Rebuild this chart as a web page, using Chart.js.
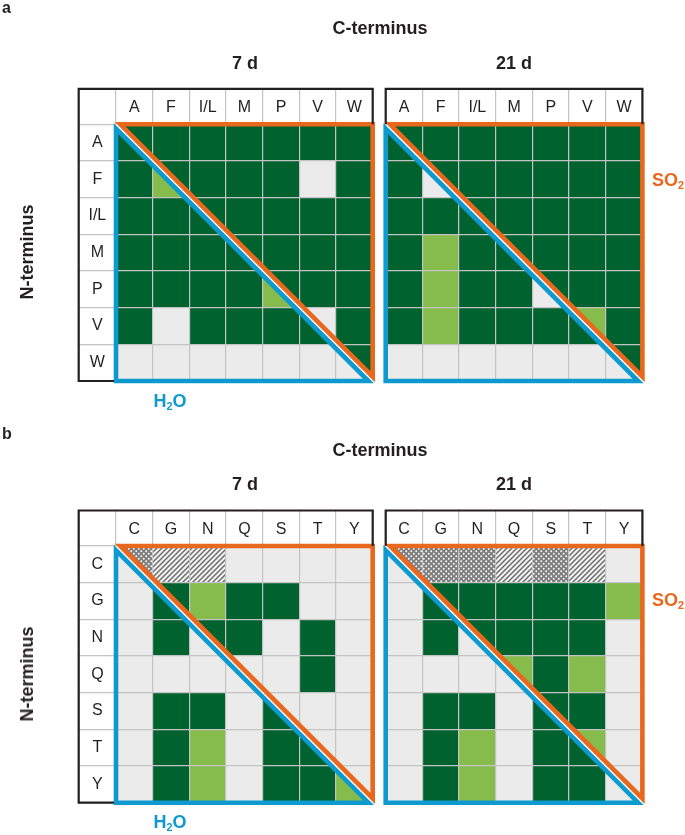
<!DOCTYPE html>
<html>
<head>
<meta charset="utf-8">
<title>Dipeptide grids: N-terminus vs C-terminus, 7 d and 21 d</title>
<script src="https://cdn.jsdelivr.net/npm/chart.js"></script>
<style>
  body { margin: 0; background: #fff; }
  #page { position: relative; width: 685px; height: 835px; overflow: hidden; color: #231f20; }
  canvas { position: absolute; left: 0; top: 0; }
  .t { position: absolute; transform: translate(-50%, -50%); white-space: nowrap;
       font-family: 'Liberation Sans Narrow', 'Arial Narrow', 'Liberation Sans', Arial, sans-serif;
       font-weight: bold; font-size: 18px; line-height: 1; }
  .panel { font-family: 'Liberation Sans', Arial, sans-serif; font-size: 16px; transform: none; }
  .rot { transform: translate(-50%, -50%) rotate(-90deg); }
  .h2o { color: #0e9acf; }
  .so2 { color: #e8681e; }
  sub { font-size: 60%; vertical-align: -0.25em; }
</style>
</head>
<body>
<div id="page">
  <canvas id="a7" width="685" height="835"></canvas>
  <canvas id="a21" width="685" height="835"></canvas>
  <canvas id="b7" width="685" height="835"></canvas>
  <canvas id="b21" width="685" height="835"></canvas>

  <div class="t panel" style="left:2px; top:0px;">a</div>
  <div class="t" style="left:380px; top:28px;">C-terminus</div>
  <div class="t" style="left:245px; top:63px;">7 d</div>
  <div class="t" style="left:514px; top:63px;">21 d</div>
  <div class="t rot" style="left:27px; top:252px;">N-terminus</div>
  <div class="t so2" style="left:668px; top:181px;">SO<sub>2</sub></div>
  <div class="t h2o" style="left:170px; top:402px;">H<sub>2</sub>O</div>

  <div class="t panel" style="left:2px; top:426px;">b</div>
  <div class="t" style="left:380px; top:450px;">C-terminus</div>
  <div class="t" style="left:245px; top:484px;">7 d</div>
  <div class="t" style="left:514px; top:484px;">21 d</div>
  <div class="t rot" style="left:27px; top:674px;">N-terminus</div>
  <div class="t so2" style="left:668px; top:601px;">SO<sub>2</sub></div>
  <div class="t h2o" style="left:170px; top:823px;">H<sub>2</sub>O</div>
</div>

<script>
// amino acid labels (rows = N-terminus, columns = C-terminus)
const aLabels = ['A', 'F', 'I/L', 'M', 'P', 'V', 'W'];
const bLabels = ['C', 'G', 'N', 'Q', 'S', 'T', 'Y'];

// 0 = not found (grey), 1 = light green, 2 = dark green, 3 = hatched, 4 = dotted
// upper triangle = SO2, lower triangle = H2O
// diagonal cells are split: [SO2 upper-right half, H2O lower-left half]
const a7d = [
  [[2, 2], 2, 2, 2, 2, 2, 2],
  [2, [2, 1], 2, 2, 2, 0, 2],
  [2, 2, [2, 2], 2, 2, 2, 2],
  [2, 2, 2, [2, 2], 2, 2, 2],
  [2, 2, 2, 2, [2, 1], 2, 2],
  [2, 0, 2, 2, 2, [0, 2], 2],
  [0, 0, 0, 0, 0, 0, [2, 0]]
];
const a21d = [
  [[2, 2], 2, 2, 2, 2, 2, 2],
  [2, [2, 0], 2, 2, 2, 2, 2],
  [2, 2, [2, 2], 2, 2, 2, 2],
  [2, 1, 2, [2, 2], 2, 2, 2],
  [2, 1, 2, 2, [2, 0], 2, 2],
  [2, 1, 2, 2, 2, [1, 2], 2],
  [0, 0, 0, 0, 0, 0, [2, 0]]
];
const b7d = [
  [[4, 0], 3, 3, 0, 0, 0, 0],
  [0, [2, 2], 1, 2, 2, 0, 0],
  [0, 2, [2, 0], 2, 0, 2, 0],
  [0, 0, 0, [0, 0], 0, 2, 0],
  [0, 2, 2, 0, [0, 2], 0, 0],
  [0, 2, 1, 0, 2, [0, 2], 0],
  [0, 2, 1, 0, 2, 2, [0, 1]]
];
const b21d = [
  [[4, 0], 4, 4, 3, 4, 3, 0],
  [0, [2, 2], 2, 2, 2, 2, 1],
  [0, 2, [2, 0], 2, 2, 2, 0],
  [0, 0, 0, [1, 0], 2, 1, 0],
  [0, 2, 2, 0, [2, 2], 2, 0],
  [0, 2, 1, 0, 2, [1, 2], 0],
  [0, 2, 1, 0, 2, 2, [0, 0]]
];

const PAGE_W = 685, PAGE_H = 835;
const HEADER_H = 35.5, LABEL_W = 37.3, GRID_SIZE = 256.7;
const ORANGE = '#e8681e', BLUE = '#0e9acf', FRAME = '#231f20';
const TICK_FONT = { family: "'Liberation Sans', Arial, sans-serif", size: 16 };

function makePattern(draw) {
  const c = document.createElement('canvas');
  c.width = c.height = 5;
  draw(c.getContext('2d'));
  return c.getContext('2d').createPattern(c, 'repeat');
}
const hatch = makePattern(g => {
  g.fillStyle = '#f2f2f2'; g.fillRect(0, 0, 5, 5);
  g.strokeStyle = '#6e6e6e'; g.lineWidth = 1.5;
  g.beginPath();
  g.moveTo(-1, 6); g.lineTo(6, -1);
  g.moveTo(-1, 1); g.lineTo(1, -1);
  g.moveTo(4, 6); g.lineTo(6, 4);
  g.stroke();
});
const dots = makePattern(g => {
  g.fillStyle = '#7e7e7e'; g.fillRect(0, 0, 5, 5);
  g.fillStyle = '#fff';
  [[1.25, 1.25], [3.75, 3.75]].forEach(([x, y]) => { g.beginPath(); g.arc(x, y, 0.95, 0, Math.PI * 2); g.fill(); });
});
const FILLS = ['#ebebeb', '#85bc4b', '#00622e', hatch, dots];

function poly(ctx, pts, fill) {
  ctx.beginPath();
  pts.forEach(([x, y], i) => i ? ctx.lineTo(x, y) : ctx.moveTo(x, y));
  ctx.closePath();
  ctx.fillStyle = fill;
  ctx.fill();
}

const cellGrid = {
  id: 'cellGrid',
  beforeDatasetsDraw(chart, args, opts) {
    const { ctx, scales: { x, y } } = chart;
    ctx.save();
    opts.cells.forEach((row, r) => row.forEach((v, c) => {
      const x0 = x.getPixelForValue(c - 0.5), x1 = x.getPixelForValue(c + 0.5);
      const y0 = y.getPixelForValue(r - 0.5), y1 = y.getPixelForValue(r + 0.5);
      if (Array.isArray(v)) {
        poly(ctx, [[x0, y0], [x1, y0], [x1, y1]], FILLS[v[0]]);
        poly(ctx, [[x0, y0], [x0, y1], [x1, y1]], FILLS[v[1]]);
      } else {
        poly(ctx, [[x0, y0], [x1, y0], [x1, y1], [x0, y1]], FILLS[v]);
      }
    }));
    ctx.restore();
  },
  afterDraw(chart, args, opts) {
    const { ctx, chartArea: { left: L, top: T, right: R, bottom: B } } = chart;
    const w = 4.6, k = 4.3;
    ctx.save();
    // white gap on the diagonal
    ctx.strokeStyle = '#fff'; ctx.lineWidth = 6;
    ctx.beginPath(); ctx.moveTo(L, T); ctx.lineTo(R, B); ctx.stroke();
    ctx.lineJoin = 'miter'; ctx.miterLimit = 10; ctx.lineWidth = w;
    // SO2 triangle (upper right)
    ctx.strokeStyle = ORANGE;
    ctx.beginPath(); ctx.moveTo(L + k, T); ctx.lineTo(R, T); ctx.lineTo(R, B - k); ctx.closePath(); ctx.stroke();
    // H2O triangle (lower left)
    ctx.strokeStyle = BLUE;
    ctx.beginPath(); ctx.moveTo(L, T + k); ctx.lineTo(L, B); ctx.lineTo(R - k, B); ctx.closePath(); ctx.stroke();
    // black frame round the labels
    ctx.strokeStyle = FRAME; ctx.lineWidth = 2.2; ctx.lineJoin = 'miter';
    ctx.beginPath();
    const top = T - HEADER_H;
    if (opts.rowLabels) {
      const left = L - LABEL_W;
      ctx.moveTo(R, T); ctx.lineTo(R, top); ctx.lineTo(left, top); ctx.lineTo(left, B); ctx.lineTo(L - 2, B);
    } else {
      ctx.moveTo(L, T); ctx.lineTo(L, top); ctx.lineTo(R, top); ctx.lineTo(R, T);
    }
    ctx.stroke();
    ctx.restore();
  }
};

function widest(labels) {
  const g = document.createElement('canvas').getContext('2d');
  g.font = `normal ${TICK_FONT.size}px ${TICK_FONT.family}`;
  return Math.max(...labels.map(s => g.measureText(s).width));
}

function makeGrid(id, labels, cells, left, top, rowLabels) {
  const lh = TICK_FONT.size * 1.2;
  const gridStyle = { offset: true, color: '#c4c4c4', lineWidth: 1.2, z: 1, tickColor: '#c4c4c4' };
  return new Chart(document.getElementById(id), {
    type: 'scatter',
    data: { datasets: [] },
    plugins: [cellGrid],
    options: {
      responsive: false,
      animation: false,
      events: [],
      layout: {
        padding: {
          left: left - (rowLabels ? LABEL_W : 0),
          top: top - HEADER_H,
          right: PAGE_W - (left + GRID_SIZE),
          bottom: PAGE_H - (top + GRID_SIZE)
        }
      },
      plugins: { legend: { display: false }, tooltip: { enabled: false }, cellGrid: { cells, rowLabels } },
      scales: {
        x: {
          type: 'category', labels, position: 'top', offset: true,
          border: { display: false },
          grid: { ...gridStyle, drawTicks: true, tickLength: HEADER_H },
          ticks: { font: TICK_FONT, color: FRAME, maxRotation: 0, autoSkip: false,
                   padding: -(HEADER_H - 16.5) - lh / 2 },
          afterFit: s => { s.height = HEADER_H; }
        },
        y: {
          type: 'category', labels, position: 'left', offset: true,
          border: { display: false },
          grid: { ...gridStyle, drawTicks: rowLabels, tickLength: rowLabels ? LABEL_W : 0 },
          ticks: { display: rowLabels, font: TICK_FONT, color: FRAME, autoSkip: false, crossAlign: 'center',
                   padding: -LABEL_W / 2 - widest(labels) / 2 },
          afterFit: s => { s.width = rowLabels ? LABEL_W : 0; }
        }
      }
    }
  });
}

makeGrid('a7', aLabels, a7d, 116, 124.3, true);
makeGrid('a21', aLabels, a21d, 385.7, 124.3, false);
makeGrid('b7', bLabels, b7d, 116, 546, true);
makeGrid('b21', bLabels, b21d, 385.7, 546, false);
</script>
</body>
</html>
